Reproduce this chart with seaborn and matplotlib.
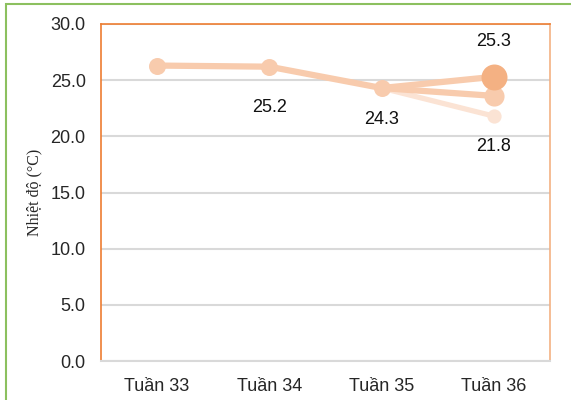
import numpy as np
import pandas as pd
import seaborn as sns
import matplotlib.pyplot as plt
from matplotlib.patches import Rectangle

weeks = ["Tuần 33", "Tuần 34", "Tuần 35", "Tuần 36"]
main_temp = [26.3, 26.2, 24.3, 25.3]
branch_b = [np.nan, np.nan, 24.3, 23.6]
branch_c = [np.nan, np.nan, 24.3, 21.8]
main_labels = ["", "25.2", "24.3", "25.3"]
branch_c_labels = ["", "", "", "21.8"]

sns.set_theme(style="white")
plt.rcParams['font.family'] = ['Liberation Sans', 'DejaVu Sans']

fig = plt.figure(figsize=(5.71, 4.0), dpi=100)
ax = fig.add_axes([101 / 571, 39 / 400, 449 / 571, 337 / 400])

df = pd.DataFrame({"week": weeks, "main": main_temp, "b": branch_b, "c": branch_c})
x = np.arange(len(weeks))

# lines, lightest first so the main series sits on top
sns.lineplot(x=x, y=df["c"], color="#FBE3D4", lw=3.8, ax=ax, zorder=2)
sns.lineplot(x=x, y=df["b"], color="#F8CBAD", lw=4.5, ax=ax, zorder=3)
sns.lineplot(x=x, y=df["main"], color="#F8CBAD", lw=4.5, ax=ax, zorder=4)

# markers
sns.scatterplot(x=x[3:], y=df["c"][3:], color="#FBE3D4", s=105, linewidth=0, ax=ax, zorder=5)
sns.scatterplot(x=x[3:], y=df["b"][3:], color="#F8CBAD", s=210, linewidth=0, ax=ax, zorder=6)
sns.scatterplot(x=x[:3], y=df["main"][:3], color="#F8CBAD", s=150, linewidth=0, ax=ax, zorder=7)
sns.scatterplot(x=x[3:], y=df["main"][3:], color="#F4B183", s=350, linewidth=0, ax=ax, zorder=8)

offsets = [0, -41, -31, 35]
for i, lab in enumerate(main_labels):
    if lab:
        ax.annotate(lab, (x[i], main_temp[i]), xytext=(0, offsets[i] * 0.72),
                    textcoords="offset points", ha="center", va="center", fontsize=13, color="#111111")
ax.annotate(branch_c_labels[3], (x[3], branch_c[3]), xytext=(0, -30 * 0.72),
            textcoords="offset points", ha="center", va="center", fontsize=13, color="#111111")

ax.set_xlim(-0.5, 3.5)
ax.set_ylim(0, 30)
ax.set_yticks(np.arange(0, 31, 5))
ax.set_yticklabels([f"{v:.1f}" for v in np.arange(0, 31, 5)], fontsize=13)
ax.set_xticks(x)
ax.set_xticklabels(weeks, fontsize=13)
ax.tick_params(axis="y", length=0, pad=11)
ax.tick_params(axis="x", length=0, pad=12)
ax.set_xlabel("")
ax.set_ylabel("Nhiệt độ (°C)", family=["Liberation Serif", "DejaVu Serif"], fontsize=11.5, labelpad=6)
ax.yaxis.grid(True, color="#D9D9D9", lw=1.5)
ax.set_axisbelow(True)

ax.spines["left"].set_color("#ED7D31")
ax.spines["top"].set_color("#ED7D31")
ax.spines["right"].set_color("#F4B183")
ax.spines["bottom"].set_color("#D9D9D9")
for s in ax.spines.values():
    s.set_linewidth(1.2)
ax.spines["bottom"].set_linewidth(1.5)

fig.patches.append(Rectangle((6 / 571, -0.1), 1.0, 1.1 - 4 / 400, transform=fig.transFigure,
                             fill=False, edgecolor="#8CC05F", lw=1.5))

fig.savefig("out.png", dpi=100)
